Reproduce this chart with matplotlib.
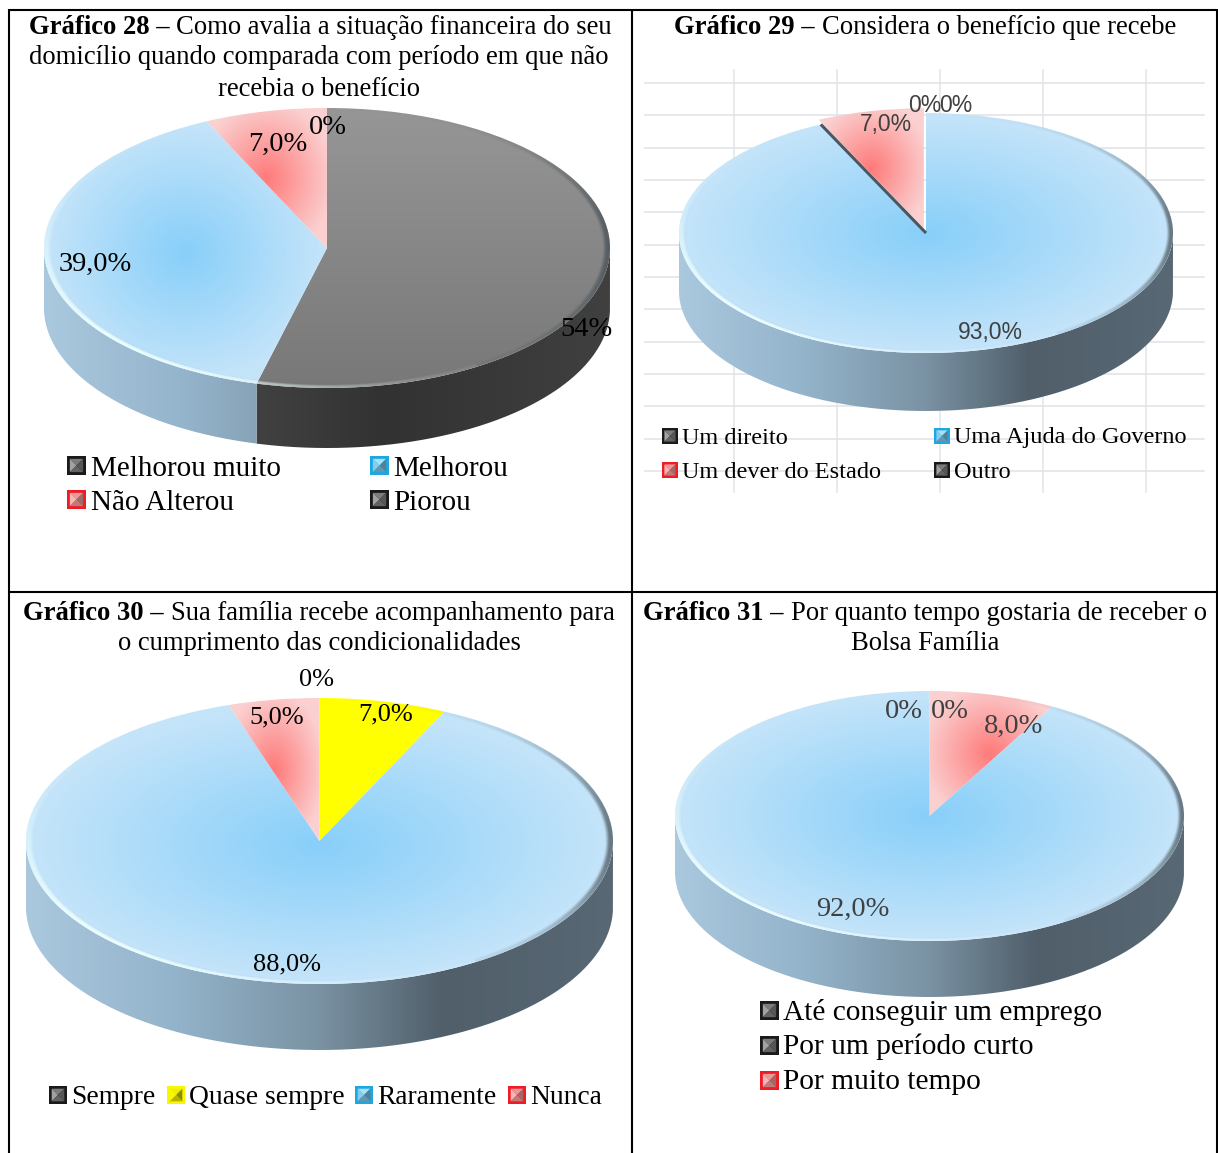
import numpy as np
import matplotlib
matplotlib.use("Agg")
import matplotlib.pyplot as plt
from matplotlib.patches import Rectangle, Polygon, Circle
from matplotlib.path import Path

W, H = 1218, 1153
SERIF = "Liberation Serif"
SANS = "Liberation Sans"

# Survey answers, listed clockwise from twelve o'clock
cat_28 = ["Melhorou muito", "Piorou", "Melhorou", "Não Alterou"]
val_28 = [0, 54, 39, 7]
lab_28 = ["0%", "54%", "39,0%", "7,0%"]

cat_29 = ["Um direito", "Uma Ajuda do Governo", "Um dever do Estado", "Outro"]
val_29 = [0, 93, 7, 0]
lab_29 = ["0%", "93,0%", "7,0%", "0%"]

cat_30 = ["Sempre", "Quase sempre", "Raramente", "Nunca"]
val_30 = [0, 7, 88, 5]
lab_30 = ["0%", "7,0%", "88,0%", "5,0%"]

cat_31 = ["Até conseguir um emprego", "Por um período curto", "Por muito tempo", ""]
val_31 = [0, 0, 8, 92]
lab_31 = ["0%", "0%", "8,0%", "92,0%"]

BLUE_C, BLUE_E = (136, 207, 250), (196, 228, 249)
RED_C, RED_E = (255, 122, 122), (251, 208, 208)
WALLS = {
    "blue": [(-1, (170, 200, 222)), (-0.5, (148, 180, 203)), (0, (122, 146, 163)),
             (0.42, (80, 95, 106)), (1, (88, 104, 116))],
    "gray": [(-1, (80, 80, 80)), (-0.45, (72, 72, 72)), (0.2, (50, 50, 50)), (1, (64, 64, 64))],
}

fig = plt.figure(figsize=(W / 100, H / 100), dpi=100, facecolor="white")


def px_axes(z):
    ax = fig.add_axes([0, 0, 1, 1], zorder=z)
    ax.set_xlim(0, W)
    ax.set_ylim(H, 0)
    ax.axis("off")
    ax.patch.set_alpha(0)
    return ax


back = px_axes(0)
front = px_axes(5)

# Spreadsheet gridlines showing behind the second pie
for gy in 83 + 32.33 * np.arange(13):
    back.plot([645, 1204], [gy, gy], color="#dfe2e5", lw=1.1)
for gx in 734 + 103 * np.arange(5):
    back.plot([gx, gx], [70, 492], color="#e2e5e8", lw=1.1)

# Table frame around the four panels
for xs, ys in [([9, 9], [9, H]), ([632, 632], [9, H]), ([1217, 1217], [9, H]),
               ([9, 1217], [10, 10]), ([9, 1217], [592, 592])]:
    back.plot(xs, ys, color="black", lw=1.5, solid_capstyle="butt")


def lerp(a, b, t):
    a, b = np.array(a, float), np.array(b, float)
    return a + (b - a) * t[..., None]


def wall_rgb(x, kind):
    stops = WALLS[kind]
    xs = [s[0] for s in stops]
    rgb = np.stack([np.interp(x, xs, [s[1][i] for s in stops]) for i in range(3)], -1)
    return rgb / 255


def wedge_box(w):
    th = np.radians(np.linspace(w.theta1, w.theta2, 200))
    xs = np.r_[w.center[0], w.center[0] + np.cos(th)]
    ys = np.r_[w.center[1], w.center[1] + np.sin(th)]
    return xs.min(), xs.max(), ys.min(), ys.max()


def draw_pie(values, kinds, cx, cy, rx, ry, depth, explode=None, sliver=None):
    margin = 12
    d = depth / ry
    ax = fig.add_axes([(cx - rx - margin) / W, 1 - (cy + ry + depth + margin) / H,
                       (2 * rx + 2 * margin) / W, (2 * ry + depth + 2 * margin) / H], zorder=2)
    ax.patch.set_alpha(0)
    wedges, _ = ax.pie(values, startangle=90, counterclock=False, radius=1, explode=explode,
                       colors=["none"] * len(values), wedgeprops={"linewidth": 0})
    ax.set_aspect("auto")
    xl = (-1 - margin / rx, 1 + margin / rx)
    yl = (-1 - d - margin / ry, 1 + margin / ry)
    extent = (xl[0], xl[1], yl[0], yl[1])
    gx, gy = np.meshgrid(np.linspace(xl[0], xl[1], 1100), np.linspace(yl[1], yl[0], 800))

    # Side wall: each slice contributes the part of its arc that faces the viewer
    for w, kind in zip(wedges, kinds):
        if w.theta2 - w.theta1 < 1e-6 or kind not in WALLS:
            continue
        for k in (-1, 0, 1):
            a = max(w.theta1, 180 + 360 * k)
            b = min(w.theta2, 360 + 360 * k)
            if b <= a:
                continue
            th = np.radians(np.linspace(a, b, 240))
            xs, ys = np.cos(th), np.sin(th)
            poly = np.r_[np.c_[xs, ys], np.c_[xs[::-1], ys[::-1] - d]]
            im = ax.imshow(wall_rgb(gx, kind), extent=extent, aspect="auto", zorder=1,
                           interpolation="bilinear")
            im.set_clip_path(Path(poly), ax.transData)

    # Top face: shaded fill per slice, clipped to the wedge itself
    for w, kind in zip(wedges, kinds):
        if w.theta2 - w.theta1 < 1e-6:
            continue
        x0, x1, y0, y1 = wedge_box(w)
        t = np.hypot((gx - (x0 + x1) / 2) / ((x1 - x0) / 2), (gy - (y0 + y1) / 2) / ((y1 - y0) / 2))
        if kind == "blue":
            rgb = lerp(BLUE_C, BLUE_E, np.clip(t / 0.98, 0, 1))
        elif kind == "red":
            rgb = lerp(RED_C, RED_E, np.clip(t / 1.12, 0, 1))
        elif kind == "gray":
            rgb = lerp((120, 120, 120), (150, 150, 150), np.clip((gy + 1) / 2, 0, 1))
        else:
            rgb = np.broadcast_to(np.array([255.0, 255.0, 0.0]), gx.shape + (3,))
        im = ax.imshow(np.asarray(rgb) / 255, extent=extent, aspect="auto", zorder=2,
                       interpolation="bilinear")
        im.set_clip_path(w)

    if sliver is not None:
        th = np.radians(sliver)
        ax.plot([0, np.cos(th)], [0, np.sin(th)], color="#4a5660", lw=2.2, zorder=4,
                solid_capstyle="butt")

    # Bevel along the rim: a highlight on the lower left, a shadow on the right
    r = np.hypot(gx, gy)
    ang = np.degrees(np.arctan2(gy, gx)) % 360
    band = np.clip((r - 0.975) / 0.014, 0, 1)
    dist_l = np.abs((ang - 222 + 180) % 360 - 180)
    dist_d = np.abs((ang - 0 + 180) % 360 - 180)
    a_l = 0.95 * np.exp(-(dist_l / 50) ** 2) * band
    a_d = 0.72 * np.exp(-(dist_d / 38) ** 2) * band
    rim = np.zeros(gx.shape + (4,))
    rim[..., :3] = np.where((a_l > a_d)[..., None], [0.93, 1.0, 1.0], [0.27, 0.31, 0.34])
    rim[..., 3] = np.maximum(a_l, a_d)
    im = ax.imshow(rim, extent=extent, aspect="auto", zorder=3, interpolation="bilinear")
    im.set_clip_path(Circle((0, 0), 1, transform=ax.transData))

    ax.set_xlim(*xl)
    ax.set_ylim(*yl)
    ax.axis("off")


def title_line(parts, cx, y, size):
    """Centre a line made of a bold lead-in followed by regular text."""
    renderer = fig.canvas.get_renderer()
    arts = [front.text(0, y + 2, s, fontfamily=SERIF, fontsize=size, fontweight=wt,
                       va="center", ha="left") for s, wt in parts]
    widths = [a.get_window_extent(renderer).width for a in arts]
    x = cx - sum(widths) / 2
    for a, wd in zip(arts, widths):
        a.set_x(x)
        x += wd


SWATCH = {
    "dark": ("#1a1a1a", "#7c7c7c", "#a2a2a2", "#565656", "#636363"),
    "red": ("#ee1c25", "#e89a9a", "#f7b4b4", "#a56666", "#c07a7a"),
    "blue": ("#1ea7e0", "#a8e0f7", "#86cdec", "#557f98", "#6795ad"),
    "yellow": ("#f7f700", "#eeee00", "#f7f700", "#8c8c00", "#b4b400"),
}


def swatch(x, y, s, kind):
    edge, top, left, right, bottom = SWATCH[kind]
    b = s * 0.15
    front.add_patch(Rectangle((x, y), s, s, fc=edge, lw=0))
    x0, x1, y0, y1 = x + b, x + s - b, y + b, y + s - b
    xc, yc = x + s / 2, y + s / 2
    for pts, c in [([(x0, y0), (x1, y0), (xc, yc)], top),
                   ([(x0, y0), (x0, y1), (xc, yc)], left),
                   ([(x1, y0), (x1, y1), (xc, yc)], right),
                   ([(x0, y1), (x1, y1), (xc, yc)], bottom)]:
        front.add_patch(Polygon(pts, fc=c, lw=0))


def legend_text(x, y, s, size):
    front.text(x, y + 3, s, fontfamily=SERIF, fontsize=size, va="center", ha="left", color="black")


def value_label(x, y, s, size=20.5, family=SERIF, color="black"):
    front.text(x, y + 2, s, fontfamily=family, fontsize=size, va="center", ha="center", color=color)


# Gráfico 28
draw_pie(val_28, ["dark", "gray", "blue", "red"], 327, 248, 283, 140, 60)
title_line([("Gráfico 28 – ", "bold"), ("Como avalia a situação financeira do seu", "normal")], 320, 26, 19.2)
title_line([("domicílio quando comparada com período em que não", "normal")], 319, 56, 19.2)
title_line([("recebia o benefício", "normal")], 319, 87, 19.2)
for (xp, yp), s in zip([(328, 125), (586, 327), (95, 262), (278, 142)], lab_28):
    value_label(xp, yp, s)
for (sx, sy, tx, kind), s in zip([(67, 456, 91, "dark"), (370, 490, 393, "dark"),
                                  (370, 456, 393, "blue"), (67, 490, 91, "red")], cat_28):
    swatch(sx, sy, 19, kind)
    legend_text(tx, sy + 10, s, 21)

# Gráfico 29
draw_pie(val_29, ["dark", "blue", "red", "dark"], 926, 233, 247, 120, 58,
         explode=[0, 0, 0.04, 0], sliver=115.2)
title_line([("Gráfico 29 – ", "bold"), ("Considera o benefício que recebe", "normal")], 925, 26, 19.2)
for (xp, yp), s in zip([(925, 104), (990, 331), (886, 122), (956, 104)], lab_29):
    value_label(xp, yp, s, size=16.5, family=SANS, color="#404040")
for (sx, sy, tx, kind), s in zip([(662, 428, 682, "dark"), (934, 428, 954, "blue"),
                                  (662, 462, 682, "red"), (934, 462, 954, "dark")], cat_29):
    swatch(sx, sy, 16, kind)
    legend_text(tx, sy + 7, s, 17.5)

# Gráfico 30
draw_pie(val_30, ["dark", "yellow", "blue", "red"], 319.5, 841, 293.5, 143, 66)
title_line([("Gráfico 30 – ", "bold"), ("Sua família recebe acompanhamento para", "normal")], 319, 611, 19.2)
title_line([("o cumprimento das condicionalidades", "normal")], 319, 641, 19.2)
for (xp, yp), s in zip([(316, 678), (386, 712), (287, 962), (277, 715)], lab_30):
    value_label(xp, yp, s, size=19)
for (sx, tx, kind), s in zip([(49, 71, "dark"), (167, 189, "yellow"),
                              (355, 377, "blue"), (508, 530, "red")], cat_30):
    swatch(sx, 1086, 18, kind)
    legend_text(tx, 1094, s, 19.8)

# Gráfico 31
draw_pie(val_31, ["dark", "dark", "red", "blue"], 929.5, 816, 254.5, 125, 56)
title_line([("Gráfico 31 – ", "bold"), ("Por quanto tempo gostaria de receber o", "normal")], 925, 611, 19.2)
title_line([("Bolsa Família", "normal")], 925, 641, 19.2)
for (xp, yp), s in zip([(904, 710), (950, 710), (1014, 724), (853, 907)], lab_31):
    value_label(xp, yp, s, color="#404040")
for (sy, kind), s in zip([(1001, "dark"), (1036, "dark"), (1071, "red")], cat_31[:3]):
    swatch(760, sy, 19, kind)
    legend_text(783, sy + 8, s, 21.2)

fig.savefig("out.png", dpi=100)
